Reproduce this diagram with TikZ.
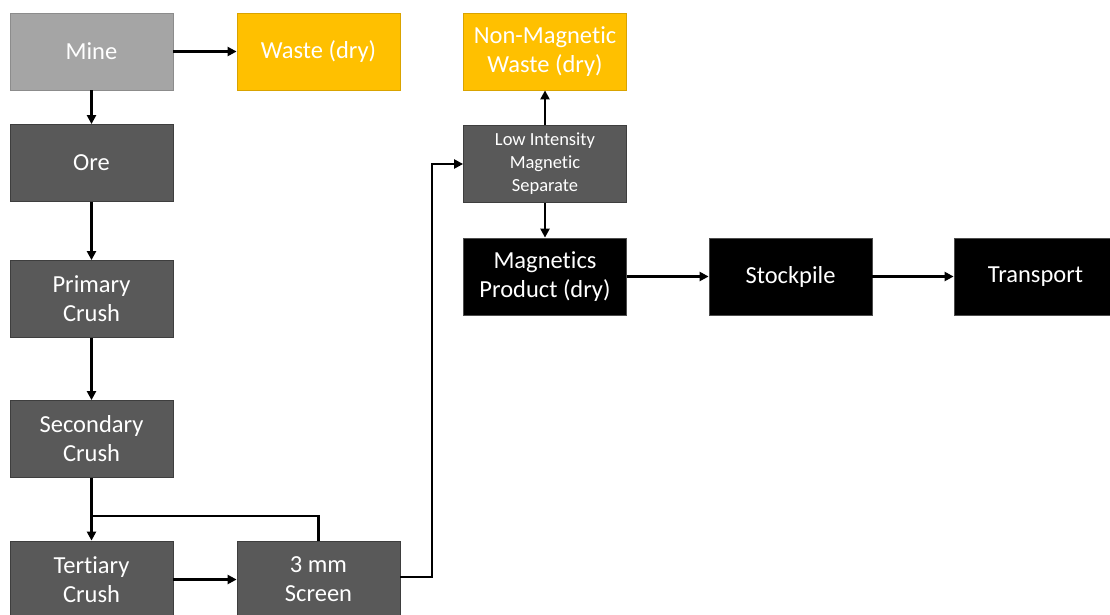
\documentclass[tikz,border=0pt]{standalone}
\usepackage{fontspec}
\setmainfont{Carlito}[Ligatures={NoCommon}]
\usetikzlibrary{arrows.meta}
\definecolor{lgray}{HTML}{A5A5A5}
\definecolor{dgray}{HTML}{595959}
\definecolor{gold}{HTML}{FFC000}
\tikzset{
  box/.style={rectangle, minimum width=163pt, minimum height=77pt, inner sep=0pt,
    text=white, align=center, font=\fontsize{24.5}{29}\selectfont, line width=0.8pt},
  mine/.style={box, fill=lgray, draw=lgray!85!black},
  waste/.style={box, fill=gold, draw=gold!85!black},
  proc/.style={box, fill=dgray, draw=dgray!70!black},
  prod/.style={box, fill=black, draw=black!70!white},
  conn/.style={line width=2.2pt, -{Triangle[length=9pt,width=9pt]}},
  plain/.style={line width=2.2pt}
}
\begin{document}
\begin{tikzpicture}[x=1pt,y=-1pt]
\clip (0,0) rectangle (1110,614);
\fill[white] (0,0) rectangle (1110,614);
\node[mine]  (mine)  at (91.5,51.5) {Mine};
\node[waste] (waste) at (318.5,51.5) {Waste (dry)};
\node[proc]  (ore)   at (91.5,163) {Ore};
\node[proc]  (prim)  at (91.5,299) {Primary\\Crush};
\node[proc]  (sec)   at (91.5,439) {Secondary\\Crush};
\node[proc]  (ter)   at (91.5,579.5) {Tertiary\\Crush};
\node[proc]  (scr)   at (318.5,579.5) {3 mm\\Screen};
\node[waste] (nmw)   at (545,51.5) {Non-Magnetic\\Waste (dry)};
\node[proc, font=\fontsize{18.5}{23}\selectfont] (lims) at (545,164) {Low Intensity\\Magnetic\\Separate};
\node[prod]  (mag)   at (545,276.5) {Magnetics\\Product (dry)};
\node[prod]  (stock) at (790.5,276.5) {Stockpile};
\node[prod]  (trans) at (1035.5,276.5) {Transport};
\coordinate (jn) at (91.5,516);
\coordinate (bend) at (432,577);
\draw[conn] (mine) -- (waste);
\draw[conn] (mine) -- (ore);
\draw[conn] (ore) -- (prim);
\draw[conn] (prim) -- (sec);
\draw[conn] (sec) -- (ter);
\draw[plain] (scr.north) |- (jn);
\draw[conn] (ter) -- (scr);
\draw[conn] (scr.east |- bend) -- (bend) |- (lims.west);
\draw[conn] (lims) -- (nmw);
\draw[conn] (lims) -- (mag);
\draw[conn] (mag) -- (stock);
\draw[conn] (stock) -- (trans);
\end{tikzpicture}
\end{document}
